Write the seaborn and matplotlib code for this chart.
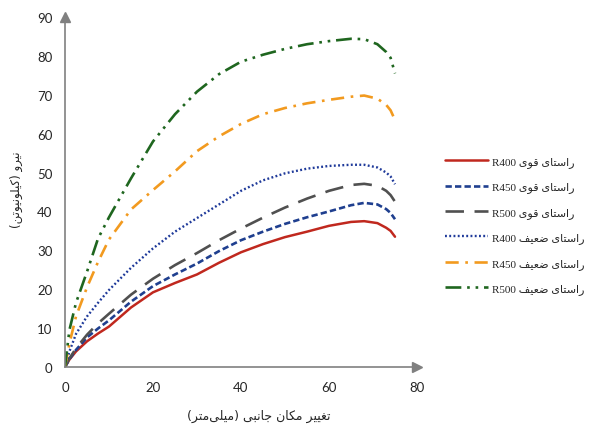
import numpy as np
import pandas as pd
import matplotlib
matplotlib.use("Agg")
import matplotlib.pyplot as plt
import seaborn as sns

# ---------------- data ----------------
x_vals = [0, 1, 2.5, 5, 7.5, 10, 15, 20, 25, 30, 35, 40, 45, 50, 55, 60, 65, 68, 71, 73, 74, 75]
r400_strong = [0, 1.9, 4.0, 6.6, 8.6, 10.4, 15.3, 19.2, 21.6, 23.8, 26.8, 29.5, 31.6, 33.4, 34.8, 36.3, 37.3, 37.5, 37.0, 35.8, 35.0, 33.5]
r450_strong = [0, 2.0, 4.4, 7.6, 9.9, 12.0, 16.8, 20.8, 23.8, 26.6, 29.8, 32.6, 34.8, 36.8, 38.5, 40.0, 41.6, 42.2, 41.8, 40.6, 39.6, 38.0]
r500_strong = [0, 2.2, 4.8, 8.3, 11.2, 13.7, 18.6, 22.7, 26.2, 29.3, 32.6, 35.6, 38.4, 41.0, 43.3, 45.3, 46.8, 47.1, 46.6, 45.3, 44.2, 42.5]
r400_weak = [0, 4.0, 8.5, 13.0, 16.5, 19.8, 25.5, 30.5, 34.8, 38.3, 41.8, 45.3, 48.0, 49.8, 51.0, 51.7, 52.0, 52.0, 51.3, 50.0, 49.0, 47.0]
r450_weak = [0, 6.0, 13.0, 20.5, 27.0, 32.8, 40.5, 45.5, 50.3, 55.5, 59.3, 62.5, 65.0, 66.6, 67.8, 68.7, 69.5, 69.8, 69.0, 67.4, 66.0, 63.5]
r500_weak = [0, 9.5, 16.5, 24.5, 33.0, 38.5, 48.5, 58.0, 65.0, 70.8, 75.3, 78.5, 80.3, 81.8, 83.0, 83.8, 84.4, 84.3, 83.0, 81.0, 79.5, 75.5]

series_keys = ["R400", "R450", "R500"]
label_strong = "راستای قوی"
label_weak = "راستای ضعیف"
x_title = "تغییر مکان جانبی (میلی\u200cمتر)"
y_title = "نیرو (کیلونیوتن)"
x_ticks = [0, 20, 40, 60, 80]
y_ticks = [0, 10, 20, 30, 40, 50, 60, 70, 80, 90]

# ---------------- minimal Arabic/Persian shaping for display ----------------
FORMS = {
    "\u0627": (0xFE8D, 0xFE8E, None, None),
    "\u0628": (0xFE8F, 0xFE90, 0xFE91, 0xFE92),
    "\u062A": (0xFE95, 0xFE96, 0xFE97, 0xFE98),
    "\u062C": (0xFE9D, 0xFE9E, 0xFE9F, 0xFEA0),
    "\u0631": (0xFEAD, 0xFEAE, None, None),
    "\u0633": (0xFEB1, 0xFEB2, 0xFEB3, 0xFEB4),
    "\u0636": (0xFEBD, 0xFEBE, 0xFEBF, 0xFEC0),
    "\u0639": (0xFEC9, 0xFECA, 0xFECB, 0xFECC),
    "\u063A": (0xFECD, 0xFECE, 0xFECF, 0xFED0),
    "\u0641": (0xFED1, 0xFED2, 0xFED3, 0xFED4),
    "\u0642": (0xFED5, 0xFED6, 0xFED7, 0xFED8),
    "\u0644": (0xFEDD, 0xFEDE, 0xFEDF, 0xFEE0),
    "\u0645": (0xFEE1, 0xFEE2, 0xFEE3, 0xFEE4),
    "\u0646": (0xFEE5, 0xFEE6, 0xFEE7, 0xFEE8),
    "\u0648": (0xFEED, 0xFEEE, None, None),
    "\u06CC": (0xFBFC, 0xFBFD, 0xFBFE, 0xFBFF),
    "\u06A9": (0xFB8E, 0xFB8F, 0xFB90, 0xFB91),
}


def shape(text):
    out = []
    n = len(text)
    for i, c in enumerate(text):
        if c not in FORMS:
            out.append(c)
            continue
        prev = text[i - 1] if i > 0 else None
        nxt = text[i + 1] if i < n - 1 else None
        join_prev = prev in FORMS and FORMS[prev][2] is not None
        join_next = nxt in FORMS and FORMS[c][2] is not None
        iso, fin, ini, med = FORMS[c]
        if join_prev and join_next:
            g = med
        elif join_prev:
            g = fin
        elif join_next:
            g = ini
        else:
            g = iso
        out.append(chr(g))
    return "".join(out).replace("\u200c", "")


def rtl(text):
    s = shape(text)[::-1]
    return s.translate(str.maketrans("()", ")("))


# ---------------- figure ----------------
sns.set_theme(style="white")
plt.rcParams["font.family"] = ["Lato", "DejaVu Sans"]

fig = plt.figure(figsize=(5.89, 4.27), dpi=100)
ax = fig.add_axes([65 / 589, 1 - 368 / 427, (417 - 65) / 589, (368 - 18) / 427])

styles = [
    (r400_strong, "R400", label_strong, "#C0281E", "-", 1.8),
    (r450_strong, "R450", label_strong, "#1F3F8F", (0, (2.4, 1.2)), 1.9),
    (r500_strong, "R500", label_strong, "#505050", (0, (7, 4)), 1.9),
    (r400_weak, "R400", label_weak, "#1F3A9A", (0, (0.8, 1.0)), 1.7),
    (r450_weak, "R450", label_weak, "#F29A1F", (0, (5, 2.5, 1, 2.5)), 1.9),
    (r500_weak, "R500", label_weak, "#1F661F", (0, (6, 2.2, 1, 2.2, 1, 2.2)), 1.9),
]

handles = []
for ys, key, lab, col, ls, lw in styles:
    df = pd.DataFrame({"x": x_vals, "y": ys})
    sns.lineplot(data=df, x="x", y="y", ax=ax, color=col, linestyle=ls,
                 linewidth=lw, legend=False)
    handles.append(ax.lines[-1])

labels = [key + " " + rtl(lab) for _, key, lab, *_ in styles]

ax.set_xlim(0, 80)
ax.set_ylim(0, 90)
ax.set_xticks(x_ticks)
ax.set_yticks(y_ticks)
ax.tick_params(axis="x", length=0, pad=10, labelsize=9.5, labelcolor="#262626")
ax.tick_params(axis="y", length=0, pad=9, labelsize=9.5, labelcolor="#262626")

for side in ["top", "right"]:
    ax.spines[side].set_visible(False)
for side in ["left", "bottom"]:
    ax.spines[side].set_color("#808080")
    ax.spines[side].set_linewidth(1.2)

# arrowheads at axis ends
ax.plot(1, 0, ">", color="#808080", markersize=7, transform=ax.transAxes, clip_on=False)
ax.plot(0, 1, "^", color="#808080", markersize=7, transform=ax.transAxes, clip_on=False)

ax.set_xlabel(rtl(x_title), family=["DejaVu Sans"], fontsize=9, color="#262626")
ax.set_ylabel(rtl(y_title), family=["DejaVu Sans"], fontsize=8.5, color="#262626")
ax.xaxis.set_label_coords(0.55, -0.12)
ax.yaxis.set_label_coords(-0.118, 0.51)

leg = fig.legend(handles, labels, loc="upper left",
                 bbox_to_anchor=(445 / 589, 1 - 157 / 427),
                 frameon=False, handlelength=3.9, handletextpad=0.3,
                 labelspacing=1.3, borderaxespad=0, borderpad=0,
                 prop={"family": ["Liberation Serif", "DejaVu Sans"], "size": 8})

fig.savefig("out.png", dpi=100)
